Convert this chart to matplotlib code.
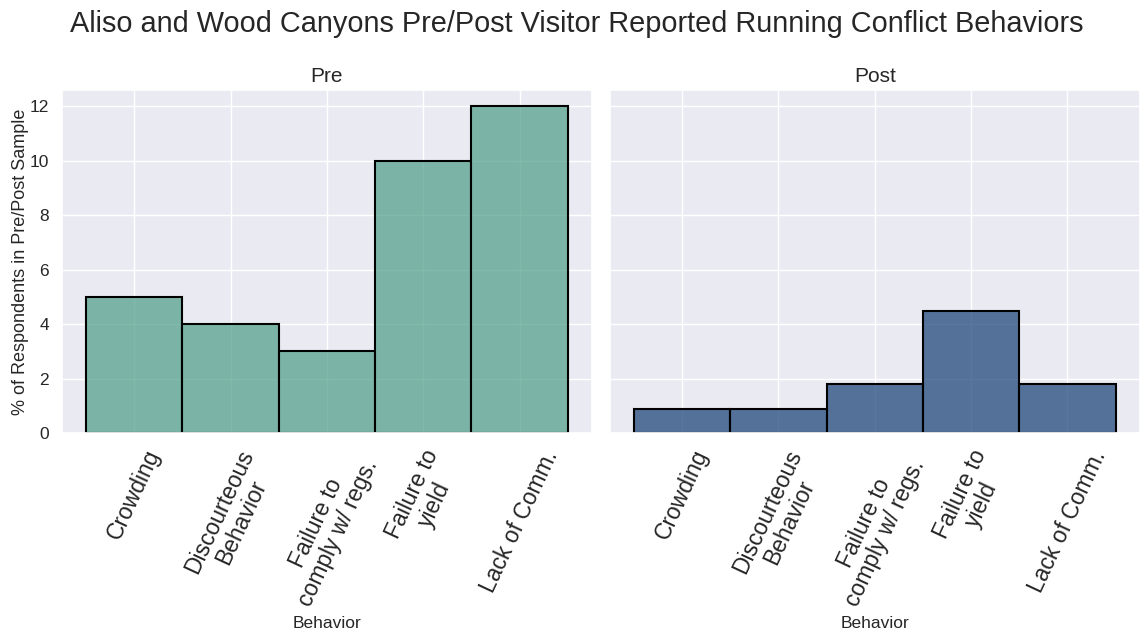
import matplotlib.pyplot as plt
import matplotlib.colors as mcolors
import seaborn as sns
import numpy as np

# Datos
behaviors = ['Crowding', 'Discourteous\nBehavior', 'Failure to\ncomply w/ regs.',
             'Failure to\nyield', 'Lack of Comm.']
pre_values = [5, 4, 3, 10, 12]
post_values = [0.9, 0.9, 1.8, 4.5, 1.8]
panels = ['Pre', 'Post']
colors = ['#56a38d', '#21487c']

sns.set_theme(style='darkgrid')
plt.rcParams['font.family'] = ['Liberation Sans', 'DejaVu Sans']

fig = plt.figure(figsize=(11.42, 6.35), dpi=100)
ax1 = fig.add_axes([0.0543, 0.318, 0.464, 0.540])
ax2 = fig.add_axes([0.534, 0.318, 0.464, 0.540], sharey=ax1)

x = np.arange(len(behaviors))
for ax, name, vals, col in zip([ax1, ax2], panels, [pre_values, post_values], colors):
    ax.bar(x, vals, width=1.0, color=mcolors.to_rgba(col, 0.75),
           edgecolor='black', linewidth=1.5)
    ax.set_xticks(x)
    ax.set_xticklabels(behaviors, rotation=65, fontsize=16.5, ha='center',
                       multialignment='center', linespacing=1.05)
    ax.set_xlim(-0.75, 4.75)
    ax.set_title(name, fontsize=15)
    ax.set_xlabel('Behavior', fontsize=12.5, labelpad=4)
    ax.tick_params(axis='y', labelsize=12.5)

ax1.set_ylim(0, 12.6)
ax1.set_ylabel('% of Respondents in Pre/Post Sample', fontsize=13, labelpad=0)
plt.setp(ax2.get_yticklabels(), visible=False)

fig.suptitle('Aliso and Wood Canyons Pre/Post Visitor Reported Running Conflict Behaviors',
             fontsize=20.8, x=0.505, y=0.985)

plt.savefig('out.png', dpi=100)
